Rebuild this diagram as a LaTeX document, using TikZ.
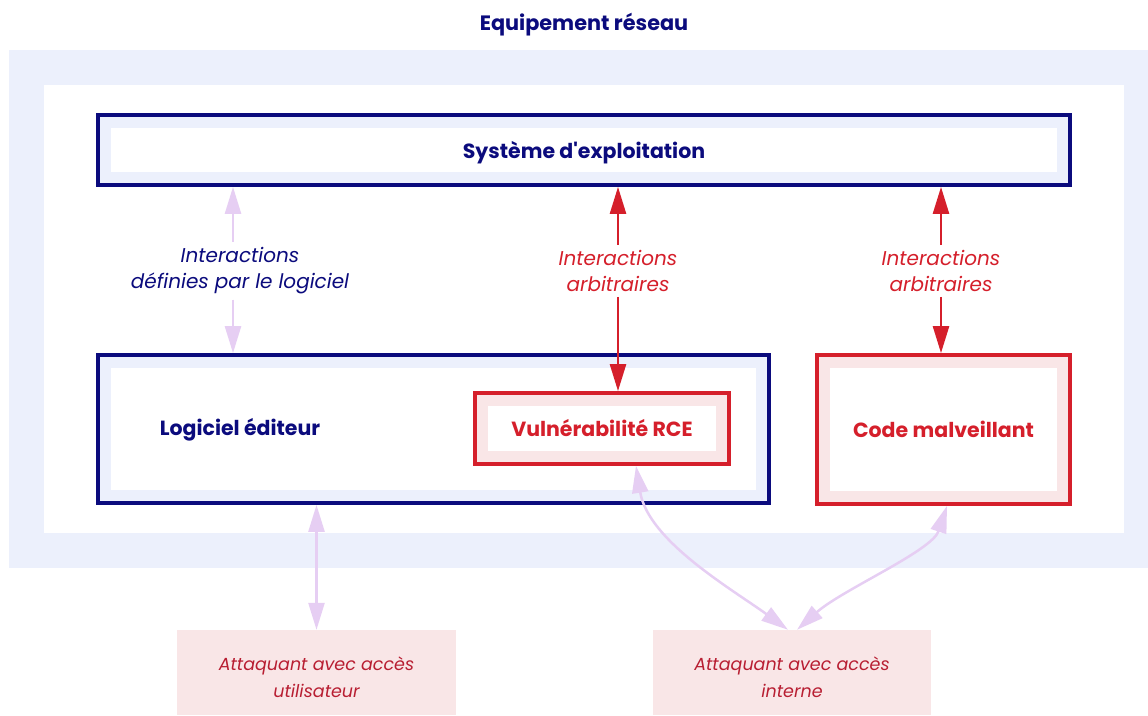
\documentclass[tikz,border=0pt]{standalone}
\usepackage{fontspec}
\setmainfont{Poppins}
\usetikzlibrary{arrows.meta,positioning}

\definecolor{navy}{HTML}{0B0B7D}
\definecolor{rouge}{HTML}{D51F2B}
\definecolor{rougefonce}{HTML}{B81E32}
\definecolor{bleupale}{HTML}{ECF0FC}
\definecolor{rosepale}{HTML}{F9E6E7}
\definecolor{lavande}{HTML}{E6CEF3}

\begin{document}
\begin{tikzpicture}[x=1pt,y=-1pt,>={Triangle[length=27pt,width=16pt]},
    boite/.style={draw=navy,line width=3.8pt,fill=bleupale,inner sep=0pt,text=navy,
        font=\bfseries\fontsize{20.5}{25}\selectfont,
        path picture={\fill[white] ([shift={(13,13)}]path picture bounding box.north west)
            rectangle ([shift={(-13,-13)}]path picture bounding box.south east);}},
    boiterouge/.style={boite,draw=rouge,fill=rosepale,text=rouge},
    etiquette/.style={inner sep=5pt,align=center,font=\itshape\fontsize{20}{26}\selectfont},
    attaquant/.style={fill=rosepale,inner sep=0pt,minimum height=85pt,align=center,
        text=rougefonce,font=\itshape\fontsize{17.5}{27}\selectfont,text height=50pt,text depth=0pt},
    lav/.style={draw=lavande,line width=2.5pt},
    rge/.style={draw=rouge,line width=2.5pt}]

    \useasboundingbox (0,0) rectangle (1148,715);

    % equipement
    \fill[bleupale] (9,50) rectangle (1148,568);
    \fill[white] (44,85) rectangle (1124,533);
    \node[text=navy,font=\bfseries\fontsize{20.8}{25}\selectfont] (titre) at (584,25) {Equipement réseau};

    \node[boite,minimum width=972pt,minimum height=70pt,text depth=0pt] (os) at (584,150) {Système d\textquotesingle exploitation};
    \node[boite,minimum width=671pt,minimum height=148pt] (editeur) at (433.5,429) {};
    \node[text=navy,font=\bfseries\fontsize{20.5}{25}\selectfont] (nomediteur) at (240,430) {Logiciel éditeur};
    \node[boiterouge,minimum width=254pt,minimum height=71pt] (rce) at (602,428.5) {Vulnérabilité RCE};
    \node[boiterouge,minimum width=253pt,minimum height=149pt] (malware) at (943.5,429.5) {Code malveillant};

    \node[attaquant,minimum width=279pt] (util) at (316.5,672.5) {Attaquant avec accès\\utilisateur};
    \node[attaquant,minimum width=278pt] (interne) at (792,672.5) {Attaquant avec accès\\interne};

    \node[etiquette,text=navy] (defini) at (240,271) {Interactions\\définies par le logiciel};
    \node[etiquette,text=rouge] (arbrce) at (618,271) {Interactions\\arbitraires};
    \node[etiquette,text=rouge] (arbcode) at (941,271) {Interactions\\arbitraires};

    \draw[lav,<-] (os.south -| 233,0) -- (defini.north -| 233,0);
    \draw[lav,->] (defini.south -| 233,0) -- (editeur.north -| 233,0);
    \draw[rge,<-] (os.south -| arbrce) -- (arbrce.north);
    \draw[rge,->] (arbrce.south) -- (rce.north -| arbrce);
    \draw[rge,<-] (os.south -| arbcode) -- (arbcode.north);
    \draw[rge,->] (arbcode.south) -- (malware.north -| arbcode);

    \draw[lav,<->] (editeur.south -| util.north) -- (util.north);
    \draw[lav,<->] ([xshift=34pt]rce.south) .. controls +(12,75) and +(-55,-40) .. ([xshift=-4pt]interne.north);
    \draw[lav,<->] ([xshift=3.5pt]malware.south) .. controls +(-15,45) and +(45,-40) .. ([xshift=5pt]interne.north);
\end{tikzpicture}
\end{document}
